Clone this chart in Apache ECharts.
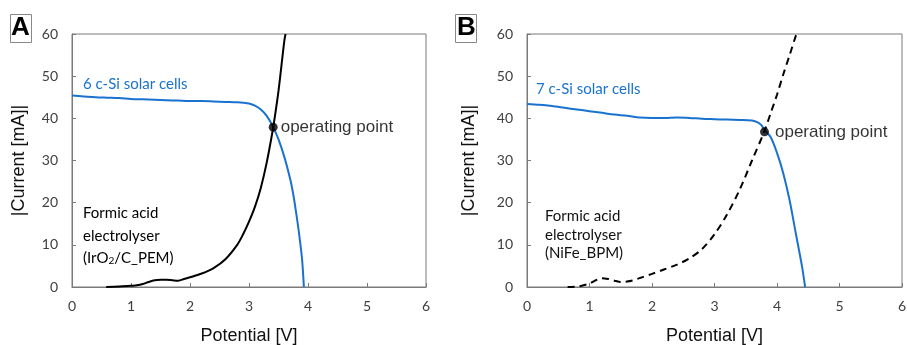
<!DOCTYPE html>
<html>
<head>
<meta charset="utf-8">
<script src="https://cdn.jsdelivr.net/npm/echarts@6/dist/echarts.min.js"></script>
<style>html,body{margin:0;padding:0;background:#fff;}#c{width:907px;height:345px;}</style>
</head>
<body>
<div id="c"></div>
<script>
// Panel A: 6 c-Si solar cells (blue) and formic acid electrolyser IrO2/C_PEM (black)
var solarA = [[0,45.4],[0.2,45.2],[0.4,45.0],[0.6,44.9],[0.8,44.8],[1.0,44.6],[1.2,44.5],[1.4,44.4],[1.6,44.3],[1.8,44.2],[2.0,44.1],[2.2,44.1],[2.4,44.0],[2.6,43.9],[2.8,43.8],[2.9,43.7],[3.0,43.5],[3.1,43.0],[3.2,42.1],[3.3,40.6],[3.4,38.2],[3.5,35.0],[3.6,30.8],[3.7,25.5],[3.75,22.0],[3.8,17.5],[3.85,12.5],[3.9,6.5],[3.93,0]];
var electA = [[0.58,0],[0.8,0.1],[1.0,0.3],[1.1,0.4],[1.2,0.7],[1.3,1.2],[1.4,1.6],[1.5,1.7],[1.6,1.7],[1.7,1.6],[1.8,1.5],[1.9,1.9],[2.0,2.3],[2.2,3.2],[2.4,4.5],[2.6,6.6],[2.8,10.0],[2.9,12.5],[3.0,15.5],[3.1,19.0],[3.2,23.5],[3.3,29.5],[3.4,37.0],[3.45,41.5],[3.5,46.5],[3.55,52.5],[3.6,58.5],[3.62,60]];
var opA = [[3.41,37.9]];
// Panel B: 7 c-Si solar cells (blue) and formic acid electrolyser NiFe_BPM (black dashed)
var solarB = [[0,43.4],[0.2,43.2],[0.4,42.9],[0.6,42.5],[0.8,42.1],[1.0,41.7],[1.2,41.3],[1.4,40.9],[1.6,40.6],[1.8,40.2],[2.0,40.1],[2.2,40.1],[2.4,40.2],[2.6,40.1],[2.8,39.9],[3.0,39.8],[3.2,39.7],[3.4,39.6],[3.6,39.5],[3.7,39.0],[3.75,38.4],[3.8,37.3],[3.9,35.5],[4.0,31.8],[4.1,27.0],[4.2,20.7],[4.3,12.8],[4.4,4.9],[4.45,0]];
var electB = [[0.65,0],[0.8,0.1],[0.9,0.4],[1.0,0.8],[1.1,1.6],[1.2,2.1],[1.3,1.9],[1.4,1.5],[1.5,1.2],[1.6,1.3],[1.7,1.6],[1.8,2.1],[2.0,3.1],[2.2,4.2],[2.4,5.3],[2.6,6.8],[2.8,9.0],[3.0,12.5],[3.2,17.2],[3.4,23.0],[3.6,30.0],[3.8,37.0],[3.9,41.3],[4.0,45.6],[4.1,50.4],[4.2,54.9],[4.3,59.5],[4.32,60]];
var opB = [[3.80,36.8]];

var xMin = 0, xMax = 6, xStep = 1;
var yMin = 0, yMax = 60, yStep = 10;
var xName = 'Potential [V]';
var yName = '|Current [mA]|';
var solarLabels = ['6 c-Si solar cells', '7 c-Si solar cells'];
var opLabel = 'operating point';

var blue = '#1a72cf';
var frame = '#7a7a7a';
var tickFont = 'Lato, "Open Sans", sans-serif';

function xAxis(idx, gap) {
  return {
    type: 'value', gridIndex: idx, min: xMin, max: xMax, interval: xStep,
    name: xName, nameLocation: 'middle', nameGap: gap,
    nameTextStyle: {fontFamily: '"Liberation Sans", Arial, sans-serif', fontSize: 18, color: '#111'},
    axisLine: {show: true, lineStyle: {color: frame, width: 1}},
    axisTick: {show: true, inside: true, length: 4, lineStyle: {color: frame}},
    axisLabel: {fontFamily: tickFont, fontSize: 14, color: '#404040', margin: 12},
    splitLine: {show: false}
  };
}
function yAxis(idx, gap) {
  return {
    type: 'value', gridIndex: idx, min: yMin, max: yMax, interval: yStep,
    name: yName, nameLocation: 'middle', nameGap: gap, nameRotate: 90,
    nameTextStyle: {fontFamily: '"Liberation Sans", Arial, sans-serif', fontSize: 18, color: '#111'},
    axisLine: {show: true, lineStyle: {color: frame, width: 1}},
    axisTick: {show: true, inside: true, length: 4, lineStyle: {color: frame}},
    axisLabel: {fontFamily: tickFont, fontSize: 14, color: '#404040', margin: 14},
    splitLine: {show: false}
  };
}

var chart = echarts.init(document.getElementById('c'), null, {renderer: 'canvas'});
chart.setOption({
  animation: false,
  backgroundColor: '#fff',
  grid: [
    {left: 72, top: 34, width: 354, height: 253, containLabel: false, outerBoundsMode: 'none', show: true, borderColor: frame, borderWidth: 1, backgroundColor: 'transparent'},
    {left: 527, top: 34, width: 375, height: 253, containLabel: false, outerBoundsMode: 'none', show: true, borderColor: frame, borderWidth: 1, backgroundColor: 'transparent'}
  ],
  xAxis: [xAxis(0, 40), xAxis(1, 40)],
  yAxis: [yAxis(0, 44), yAxis(1, 49)],
  series: [
    {type: 'line', xAxisIndex: 0, yAxisIndex: 0, data: solarA, symbol: 'none', smooth: 0.3,
     lineStyle: {color: blue, width: 2}},
    {type: 'line', xAxisIndex: 0, yAxisIndex: 0, data: electA, symbol: 'none', smooth: 0.3,
     lineStyle: {color: '#000', width: 2}},
    {type: 'scatter', xAxisIndex: 0, yAxisIndex: 0, data: opA, symbol: 'circle', symbolSize: 9,
     itemStyle: {color: '#000'}, z: 5,
     label: {show: true, position: 'right', distance: 3, formatter: opLabel,
             fontFamily: '"Liberation Sans", Arial, sans-serif', fontSize: 17, color: '#000'}},
    {type: 'line', xAxisIndex: 1, yAxisIndex: 1, data: solarB, symbol: 'none', smooth: 0.3,
     lineStyle: {color: blue, width: 2}},
    {type: 'line', xAxisIndex: 1, yAxisIndex: 1, data: electB, symbol: 'none', smooth: 0.3,
     lineStyle: {color: '#000', width: 2, type: [7, 5]}},
    {type: 'scatter', xAxisIndex: 1, yAxisIndex: 1, data: opB, symbol: 'circle', symbolSize: 9,
     itemStyle: {color: '#000'}, z: 5,
     label: {show: true, position: 'right', distance: 6, formatter: opLabel,
             fontFamily: '"Liberation Sans", Arial, sans-serif', fontSize: 17, color: '#000'}}
  ],
  graphic: [
    // panel letters
    {type: 'rect', left: 10, top: 14, shape: {width: 21, height: 28}, style: {fill: '#fff', stroke: '#888', lineWidth: 1}},
    {type: 'text', left: 11, top: 15, style: {text: 'A', font: 'bold 26px "Liberation Sans", Arial, sans-serif', fill: '#000'}},
    {type: 'rect', left: 455, top: 14, shape: {width: 21, height: 28}, style: {fill: '#fff', stroke: '#888', lineWidth: 1}},
    {type: 'text', left: 457, top: 15, style: {text: 'B', font: 'bold 26px "Liberation Sans", Arial, sans-serif', fill: '#000'}},
    // solar labels
    {type: 'text', left: 83, top: 77, style: {text: solarLabels[0], font: '15px Lato, sans-serif', fill: blue}},
    {type: 'text', left: 536, top: 82, style: {text: solarLabels[1], font: '15px Lato, sans-serif', fill: blue}},
    // electrolyser labels
    {type: 'text', left: 83, top: 206, style: {
      text: '{a|Formic acid}\n{a|electrolyser}\n{a|(IrO}{s|2}{a|/C_PEM)}',
      rich: {a: {fontFamily: 'Lato, sans-serif', fontSize: 15, color: '#111', lineHeight: 22.5, verticalAlign: 'bottom'},
             s: {fontFamily: 'Lato, sans-serif', fontSize: 10, color: '#111', lineHeight: 12, verticalAlign: 'bottom'}}
    }},
    {type: 'text', left: 545, top: 207, style: {
      text: 'Formic acid\nelectrolyser\n(NiFe_BPM)',
      font: '15px Lato, sans-serif', fill: '#111', lineHeight: 18.5
    }}
  ]
});
</script>
</body>
</html>
